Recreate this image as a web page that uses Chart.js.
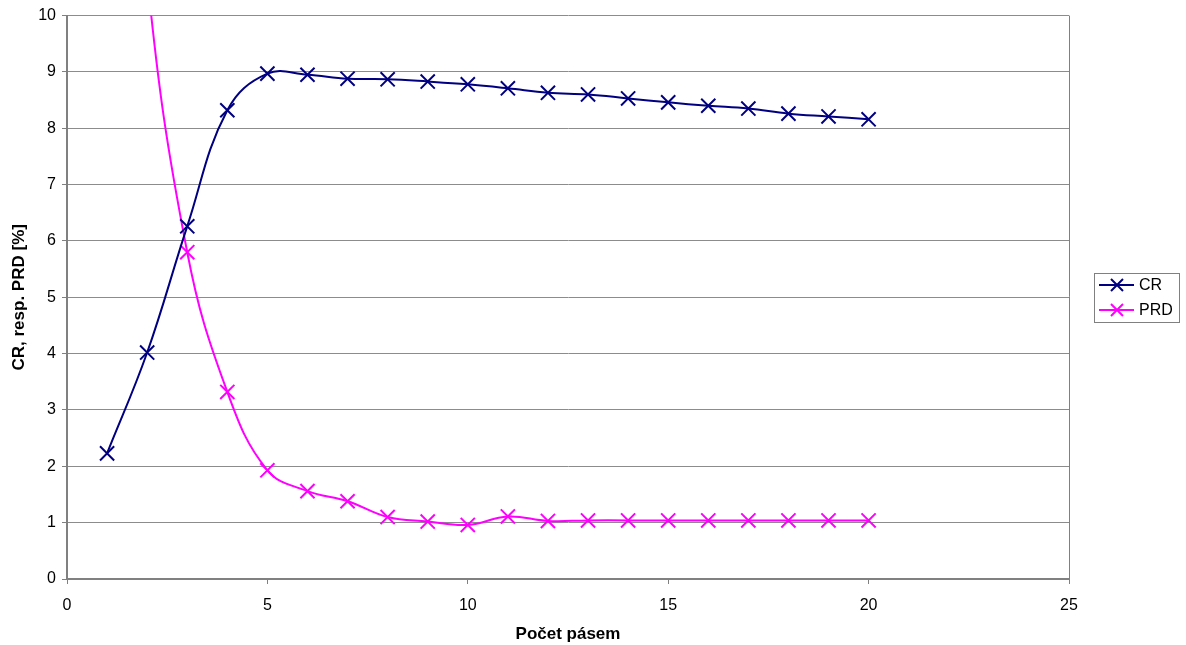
<!DOCTYPE html>
<html>
<head>
<meta charset="utf-8">
<script src="https://cdn.jsdelivr.net/npm/chart.js@4/dist/chart.umd.min.js"></script>
<style>
html,body{margin:0;padding:0;background:#fff;}
#wrap{width:1186px;height:645px;position:relative;}
</style>
</head>
<body>
<div id="wrap"><canvas id="c" width="1186" height="645"></canvas></div>
<script>
const bands = [1,2,3,4,5,6,7,8,9,10,11,12,13,14,15,16,17,18,19,20];
const crValues = [2.23,4.02,6.26,8.32,8.97,8.95,8.88,8.87,8.83,8.78,8.71,8.63,8.60,8.53,8.46,8.40,8.35,8.26,8.21,8.16];
const prdValues = [20.0,10.7,5.80,3.32,1.93,1.56,1.38,1.10,1.02,0.96,1.11,1.03,1.04,1.04,1.04,1.04,1.04,1.04,1.04,1.04];
const seriesNames = ['CR','PRD'];
const seriesColors = ['#000080','#FF00FF'];
const xTicks = [0,5,10,15,20,25];
const yTicks = [0,1,2,3,4,5,6,7,8,9,10];
const xTitle = 'Počet pásem';
const yTitle = 'CR, resp. PRD [%]';

const FONT = "'Liberation Sans', Arial, sans-serif";

function mk(vals){ return bands.map((b,i)=>({x:b,y:vals[i]})); }

const legendPlugin = {
  id:'boxLegend',
  afterDraw(chart){
    const ctx = chart.ctx;
    const x0=1094, y0=273, w=85, h=49;
    ctx.save();
    ctx.fillStyle='#fff';
    ctx.fillRect(x0,y0,w,h);
    ctx.strokeStyle='#808080';
    ctx.lineWidth=1;
    ctx.strokeRect(x0+0.5,y0+0.5,w,h);
    chart.data.datasets.forEach((ds,i)=>{
      const cy = y0+12+i*25;
      ctx.strokeStyle=ds.borderColor;
      ctx.lineWidth=2;
      ctx.beginPath(); ctx.moveTo(x0+5,cy); ctx.lineTo(x0+40,cy); ctx.stroke();
      ctx.lineWidth=2;
      const mx=x0+23, r=6;
      ctx.beginPath();
      ctx.moveTo(mx-r,cy-r); ctx.lineTo(mx+r,cy+r);
      ctx.moveTo(mx-r,cy+r); ctx.lineTo(mx+r,cy-r);
      ctx.stroke();
      ctx.fillStyle='#000';
      ctx.font='16px '+FONT;
      ctx.textBaseline='middle';
      ctx.textAlign='left';
      ctx.fillText(ds.label,x0+45,cy+1);
    });
    ctx.restore();
  }
};

new Chart(document.getElementById('c'),{
  type:'line',
  data:{
    datasets:[
      {label:seriesNames[0],data:mk(crValues),borderColor:seriesColors[0],backgroundColor:seriesColors[0],
       borderWidth:2,tension:0.4,pointStyle:'crossRot',pointRadius:10,pointBorderWidth:2,pointBorderColor:seriesColors[0],fill:false},
      {label:seriesNames[1],data:mk(prdValues),borderColor:seriesColors[1],backgroundColor:seriesColors[1],
       borderWidth:2,tension:0.4,pointStyle:'crossRot',pointRadius:10,pointBorderWidth:2,pointBorderColor:seriesColors[1],fill:false}
    ]
  },
  options:{
    responsive:false,
    animation:false,
    devicePixelRatio:1,
    clip:{left:0,top:0,right:0,bottom:0},
    layout:{padding:{left:0,top:15,right:117,bottom:0}},
    plugins:{legend:{display:false},tooltip:{enabled:false}},
    scales:{
      x:{
        type:'linear',min:0,max:25,
        afterBuildTicks(s){ s.ticks = xTicks.map(v=>({value:v})); },
        afterFit(s){ s.height = 66; },
        ticks:{font:{family:FONT,size:16},color:'#000',padding:12,maxRotation:0},
        grid:{drawOnChartArea:true,color:(c)=> (c.tick && c.tick.value===25) ? '#808080' : 'rgba(0,0,0,0)',
              tickColor:'#808080',tickLength:5,lineWidth:1},
        border:{color:'#808080',width:2},
        title:{display:true,text:xTitle,font:{family:FONT,size:17,weight:'bold'},color:'#000',padding:{top:0,bottom:0}}
      },
      y:{
        type:'linear',min:0,max:10,
        afterBuildTicks(s){ s.ticks = yTicks.map(v=>({value:v})); },
        afterFit(s){ s.width = 67; },
        ticks:{font:{family:FONT,size:16},color:'#000',padding:6},
        grid:{color:'#8c8c8c',tickColor:'#808080',tickLength:5,lineWidth:1},
        border:{color:'#808080',width:2},
        title:{display:true,text:yTitle,font:{family:FONT,size:17,weight:'bold'},color:'#000',padding:{top:9,bottom:0}}
      }
    }
  },
  plugins:[legendPlugin]
});
</script>
</body>
</html>
